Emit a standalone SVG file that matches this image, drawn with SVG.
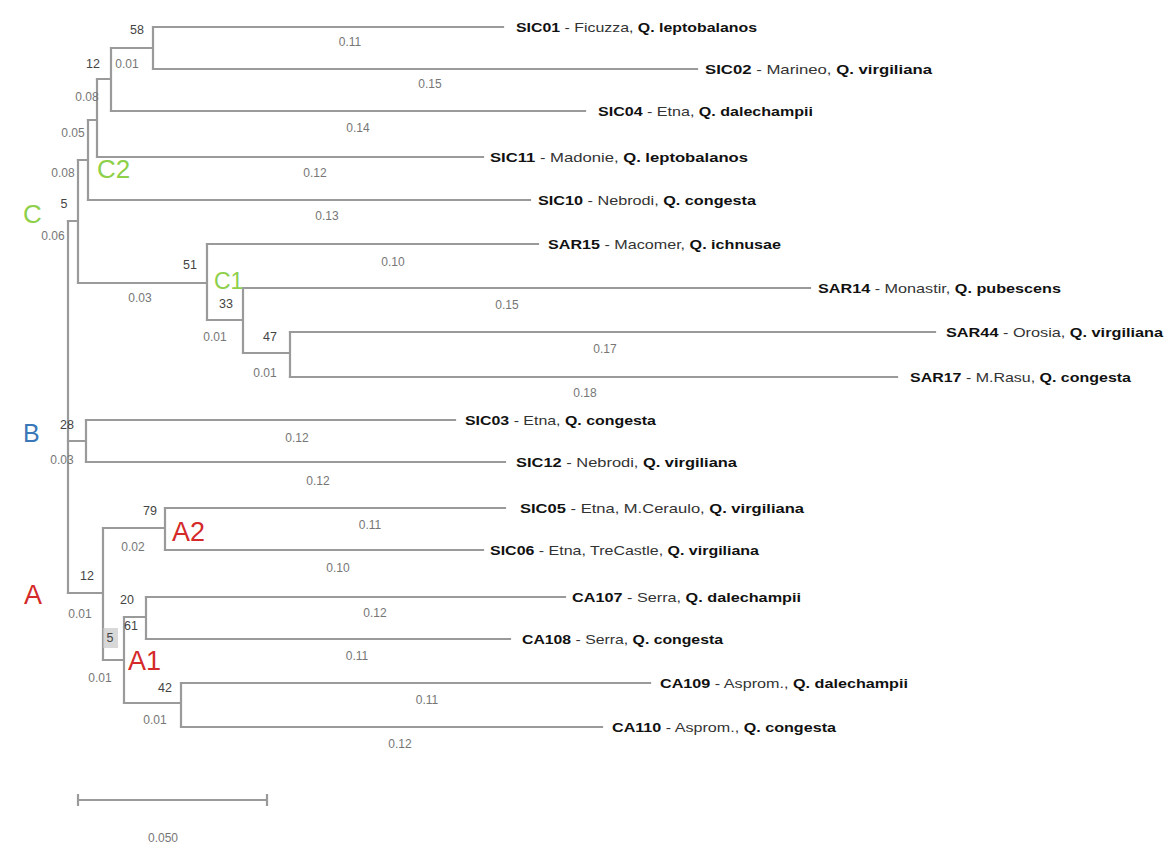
<svg xmlns="http://www.w3.org/2000/svg" width="1171" height="849" viewBox="0 0 1171 849">
<style>
.br{fill:none;stroke:#9a9a9a;stroke-width:2.2;stroke-linecap:square}
.lf{font-family:"Liberation Sans",Arial,sans-serif;font-size:13px;fill:#333}
.lf .b{font-weight:bold;fill:#111}
.bl{font-family:"Liberation Sans",Arial,sans-serif;font-size:12px;fill:#767676;text-anchor:middle}
.bs{font-family:"Liberation Sans",Arial,sans-serif;font-size:12.5px;fill:#444;text-anchor:middle}
.cg{font-family:"Liberation Sans",Arial,sans-serif;font-size:26px;fill:#8ed04a}
.ar{font-family:"Liberation Sans",Arial,sans-serif;font-size:27px;fill:#d42a2a}
.bb{font-family:"Liberation Sans",Arial,sans-serif;font-size:25px;fill:#3b78b8}
</style>
<rect width="1171" height="849" fill="#ffffff"/>
<g id="connectors" class="br">
<path d="M68,221 V593"/>
<path d="M68,221 H78 M78,160 V283"/>
<path d="M78,283 H207 M207,244 V320"/>
<path d="M207,244 H538"/>
<path d="M207,320 H243 M243,288 V353"/>
<path d="M243,288 H810"/>
<path d="M243,353 H290 M290,332 V377"/>
<path d="M290,332 H935"/>
<path d="M290,377 H897"/>
<path d="M78,160 H88 M88,120 V200"/>
<path d="M88,200 H530"/>
<path d="M88,120 H97 M97,79 V157"/>
<path d="M97,157 H483"/>
<path d="M97,79 H111 M111,48 V111"/>
<path d="M111,111 H585"/>
<path d="M111,48 H153 M153,27 V69"/>
<path d="M153,27 H503"/>
<path d="M153,69 H697"/>
<path d="M68,441 H86 M86,420 V462"/>
<path d="M86,420 H455"/>
<path d="M86,462 H505"/>
<path d="M68,593 H103 M103,528 V660"/>
<path d="M103,528 H165 M165,508 V550"/>
<path d="M165,508 H505"/>
<path d="M165,550 H483"/>
<path d="M103,660 H124 M124,617 V703"/>
<path d="M124,617 H146 M146,597 V639"/>
<path d="M146,597 H565"/>
<path d="M146,639 H510"/>
<path d="M124,703 H181 M181,683 V727"/>
<path d="M181,683 H650"/>
<path d="M181,727 H602"/>
</g>
<g id="leaf-SIC01"><text class="lf" x="516" y="32" textLength="241" lengthAdjust="spacingAndGlyphs"><tspan class="b">SIC01</tspan> - Ficuzza, <tspan class="b">Q. leptobalanos</tspan></text><text class="bl" x="350" y="46">0.11</text></g>
<g id="leaf-SIC02"><text class="lf" x="705" y="74" textLength="227" lengthAdjust="spacingAndGlyphs"><tspan class="b">SIC02</tspan> - Marineo, <tspan class="b">Q. virgiliana</tspan></text><text class="bl" x="430" y="88">0.15</text></g>
<g id="leaf-SIC04"><text class="lf" x="598" y="116" textLength="215" lengthAdjust="spacingAndGlyphs"><tspan class="b">SIC04</tspan> - Etna, <tspan class="b">Q. dalechampii</tspan></text><text class="bl" x="358" y="132">0.14</text></g>
<g id="leaf-SIC11"><text class="lf" x="490" y="162" textLength="258" lengthAdjust="spacingAndGlyphs"><tspan class="b">SIC11</tspan> - Madonie, <tspan class="b">Q. leptobalanos</tspan></text><text class="bl" x="315" y="177">0.12</text></g>
<g id="leaf-SIC10"><text class="lf" x="538" y="205" textLength="218" lengthAdjust="spacingAndGlyphs"><tspan class="b">SIC10</tspan> - Nebrodi, <tspan class="b">Q. congesta</tspan></text><text class="bl" x="327" y="220">0.13</text></g>
<g id="leaf-SAR15"><text class="lf" x="548" y="249" textLength="233" lengthAdjust="spacingAndGlyphs"><tspan class="b">SAR15</tspan> - Macomer, <tspan class="b">Q. ichnusae</tspan></text><text class="bl" x="393" y="266">0.10</text></g>
<g id="leaf-SAR14"><text class="lf" x="818" y="293" textLength="243" lengthAdjust="spacingAndGlyphs"><tspan class="b">SAR14</tspan> - Monastir, <tspan class="b">Q. pubescens</tspan></text><text class="bl" x="507" y="309">0.15</text></g>
<g id="leaf-SAR44"><text class="lf" x="946" y="337" textLength="217" lengthAdjust="spacingAndGlyphs"><tspan class="b">SAR44</tspan> - Orosia, <tspan class="b">Q. virgiliana</tspan></text><text class="bl" x="605" y="353">0.17</text></g>
<g id="leaf-SAR17"><text class="lf" x="910" y="382" textLength="221" lengthAdjust="spacingAndGlyphs"><tspan class="b">SAR17</tspan> - M.Rasu, <tspan class="b">Q. congesta</tspan></text><text class="bl" x="585" y="397">0.18</text></g>
<g id="leaf-SIC03"><text class="lf" x="465" y="425" textLength="191" lengthAdjust="spacingAndGlyphs"><tspan class="b">SIC03</tspan> - Etna, <tspan class="b">Q. congesta</tspan></text><text class="bl" x="297" y="442">0.12</text></g>
<g id="leaf-SIC12"><text class="lf" x="516" y="467" textLength="221" lengthAdjust="spacingAndGlyphs"><tspan class="b">SIC12</tspan> - Nebrodi, <tspan class="b">Q. virgiliana</tspan></text><text class="bl" x="318" y="485">0.12</text></g>
<g id="leaf-SIC05"><text class="lf" x="520" y="513" textLength="284" lengthAdjust="spacingAndGlyphs"><tspan class="b">SIC05</tspan> - Etna, M.Ceraulo, <tspan class="b">Q. virgiliana</tspan></text><text class="bl" x="370" y="529">0.11</text></g>
<g id="leaf-SIC06"><text class="lf" x="490" y="555" textLength="269" lengthAdjust="spacingAndGlyphs"><tspan class="b">SIC06</tspan> - Etna, TreCastle, <tspan class="b">Q. virgiliana</tspan></text><text class="bl" x="338" y="572">0.10</text></g>
<g id="leaf-CA107"><text class="lf" x="572" y="602" textLength="229" lengthAdjust="spacingAndGlyphs"><tspan class="b">CA107</tspan> - Serra, <tspan class="b">Q. dalechampii</tspan></text><text class="bl" x="375" y="617">0.12</text></g>
<g id="leaf-CA108"><text class="lf" x="522" y="644" textLength="201" lengthAdjust="spacingAndGlyphs"><tspan class="b">CA108</tspan> - Serra, <tspan class="b">Q. congesta</tspan></text><text class="bl" x="357" y="660">0.11</text></g>
<g id="leaf-CA109"><text class="lf" x="660" y="688" textLength="248" lengthAdjust="spacingAndGlyphs"><tspan class="b">CA109</tspan> - Asprom., <tspan class="b">Q. dalechampii</tspan></text><text class="bl" x="427" y="704">0.11</text></g>
<g id="leaf-CA110"><text class="lf" x="612" y="732" textLength="224" lengthAdjust="spacingAndGlyphs"><tspan class="b">CA110</tspan> - Asprom., <tspan class="b">Q. congesta</tspan></text><text class="bl" x="400" y="748">0.12</text></g>
<g id="node-C2-sub">
<text class="bs" x="137" y="34">58</text>
<text class="bs" x="93" y="68">12</text><text class="bl" x="127" y="68">0.01</text>
<text class="bl" x="87" y="101">0.08</text>
<text class="bl" x="73" y="137">0.05</text>
<text class="bl" x="63" y="177">0.08</text>
<text class="cg" x="97" y="178">C2</text>
</g>
<g id="node-C">
<text class="cg" x="23" y="223">C</text>
<text class="bs" x="64" y="208">5</text>
<text class="bl" x="53" y="240">0.06</text>
</g>
<g id="node-C1">
<text class="bs" x="190" y="269">51</text>
<text class="bl" x="140" y="302">0.03</text>
<text class="cg" x="214" y="289" style="font-size:23px">C1</text>
<text class="bs" x="226" y="308">33</text>
<text class="bl" x="215" y="341">0.01</text>
<text class="bs" x="270" y="341">47</text>
<text class="bl" x="265" y="377">0.01</text>
</g>
<g id="node-B">
<text class="bb" x="23" y="442">B</text>
<text class="bs" x="67" y="429">28</text>
<text class="bl" x="62" y="464">0.03</text>
</g>
<g id="node-A">
<text class="ar" x="24" y="604">A</text>
<text class="bs" x="87" y="580">12</text>
<text class="bl" x="80" y="618">0.01</text>
<text class="bs" x="150" y="515">79</text>
<text class="bl" x="133" y="551">0.02</text>
<text class="ar" x="172" y="541">A2</text>
<text class="bs" x="127" y="604">20</text>
<text class="bs" x="131" y="630">61</text>
<rect x="103" y="628" width="15" height="20" fill="#c8c8c8" opacity="0.7"/>
<text class="bs" x="110" y="642">5</text>
<text class="ar" x="128" y="670">A1</text>
<text class="bl" x="100" y="682">0.01</text>
<text class="bs" x="165" y="692">42</text>
<text class="bl" x="155" y="724">0.01</text>
</g>
<g id="scale">
<path class="br" d="M78,800 H267 M78,795 V805 M267,795 V805"/>
<text class="bl" x="163" y="842">0.050</text>
</g>
</svg>
